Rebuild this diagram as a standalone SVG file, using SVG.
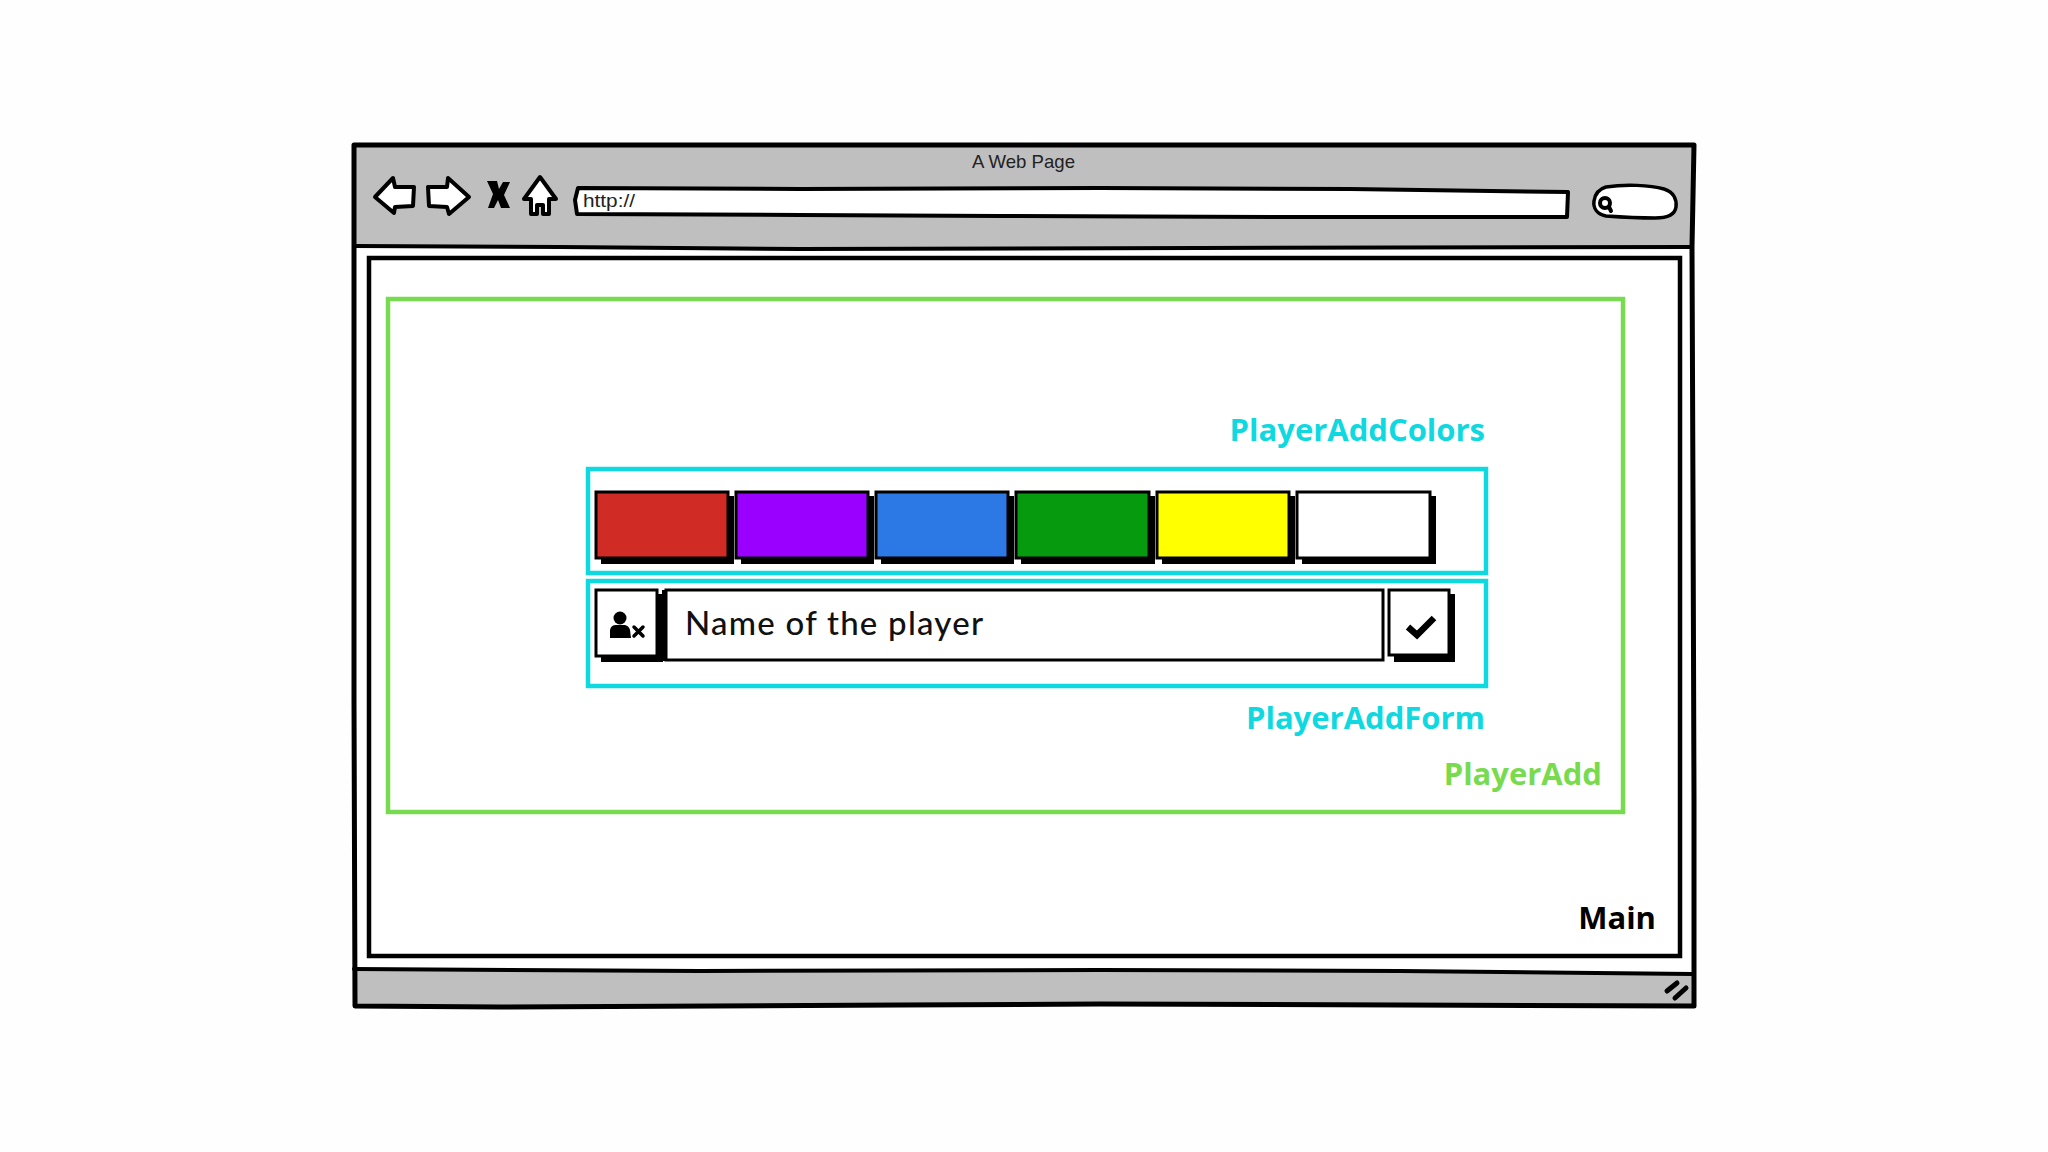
<svg xmlns="http://www.w3.org/2000/svg" width="2048" height="1152" viewBox="0 0 2048 1152">
<style>
.ink{stroke:#000;fill:none;stroke-linejoin:round;stroke-linecap:round}
.s5{stroke-width:5}.s4{stroke-width:4}
.grey{fill:#c0bfc0}
.wh{fill:#fff}
.grn{fill:none;stroke:#78db4f;stroke-width:4.5}
.cy{fill:none;stroke:#0fd9e0;stroke-width:4.5}
.lab{font-family:"Open Sans","Noto Sans",sans-serif;font-weight:700;font-size:31px}
.hand{font-family:"Liberation Sans",sans-serif;fill:#222}
.sw{stroke:#000;stroke-width:3}
.sh{fill:#000}
</style>
<rect width="2048" height="1152" fill="#fefefe"/>
<g id="browser">
<path class="wh" d="M354 145H1694V1006H354Z"/>
<path class="grey" d="M354 145H1694L1692 247L960 248L354 246Z"/>
<path class="grey" d="M354 969L700 971L1100 969L1400 971L1693 974V1005L900 1004L500 1007L354 1007Z"/>
<path class="ink s5" d="M354 145H1694L1692 247L1693 500L1694 800L1694 1006L1100 1004L900 1005L500 1007L355 1006L354 700L354 400Z"/>
<path class="ink s4" d="M354 246L560 247L800 249L1200 248L1692 247"/>
<path class="ink s4" d="M354 969L700 971L1100 970L1400 971L1693 974"/>
<text class="hand" x="972" y="168" font-size="18.5" textLength="103" lengthAdjust="spacingAndGlyphs">A Web Page</text>
<g id="btn-back"><path class="ink s4 wh" d="M375 197L393 178L395 187L414 187L413 206L395 207L394 213Z"/></g>
<g id="btn-forward"><path class="ink s4 wh" d="M428 187L447 187L448 178L469 197L449 214L447 207L429 206Z"/></g>
<g id="btn-stop"><path d="M487 181H497L499 189L503 182H510L504 195L510 208H501L498 200L494 208H488L493 194Z" fill="#000"/></g>
<g id="btn-home"><path class="ink s4 wh" d="M540 177L556 199L549 199L549 214L543 214L543 205L537 205L537 214L531 214L531 199L524 199Z"/></g>
<g id="address-bar">
<path class="ink s4 wh" d="M578 188L800 189L1100 188L1350 189L1568 192L1567 217L1300 217L1000 216L800 215L577 214L575 200Z"/>
<text class="hand" x="583" y="207" font-size="18" textLength="52" lengthAdjust="spacingAndGlyphs">http://</text>
</g>
<g id="search-box">
<path class="ink s3 wh" stroke-width="3.5" d="M1606 187C1625 184 1650 185 1664 189C1674 192 1677 200 1676 207C1675 214 1668 218 1655 218C1640 218 1620 217 1606 216C1597 214 1593 208 1594 201C1595 194 1599 189 1606 187Z"/>
<circle class="ink s4" cx="1605" cy="203" r="5"/>
<path class="ink s4" d="M1609 207L1611 211"/>
</g>
<g id="resize-grip">
<path class="ink s5" d="M1667 991L1677 983"/>
<path class="ink s5" d="M1675 998L1686 988"/>
</g>
</g>
<g id="main">
<rect x="369" y="258" width="1311" height="698" fill="#fff" stroke="#000" stroke-width="4.5"/>
<text class="lab" x="1656" y="929" text-anchor="end" fill="#000">Main</text>
</g>
<g id="player-add">
<rect class="grn" x="388" y="299" width="1235" height="513" fill="none"/>
<text class="lab" x="1602" y="785" text-anchor="end" fill="#78db4f">PlayerAdd</text>
</g>
<g id="player-add-colors">
<rect class="cy" x="588" y="469" width="898" height="104"/>
<text class="lab" x="1485" y="441" text-anchor="end" fill="#0fd9e0">PlayerAddColors</text>
<rect class="sh" x="601" y="496" width="133" height="68"/>
<rect class="sh" x="741" y="496" width="133" height="68"/>
<rect class="sh" x="881" y="496" width="133" height="68"/>
<rect class="sh" x="1021" y="496" width="134" height="68"/>
<rect class="sh" x="1162" y="496" width="133" height="68"/>
<rect class="sh" x="1302" y="496" width="134" height="68"/>
<rect class="sw" id="swatch-red" x="596" y="492" width="132" height="66" fill="#d12b25"/>
<rect class="sw" id="swatch-purple" x="736" y="492" width="132" height="66" fill="#9900ff"/>
<rect class="sw" id="swatch-blue" x="876" y="492" width="132" height="66" fill="#2c78e4"/>
<rect class="sw" id="swatch-green" x="1016" y="492" width="133" height="66" fill="#069a0e"/>
<rect class="sw" id="swatch-yellow" x="1157" y="492" width="132" height="66" fill="#ffff00"/>
<rect class="sw" id="swatch-white" x="1297" y="492" width="133" height="66" fill="#fff"/>
</g>
<g id="player-add-form">
<rect class="cy" x="588" y="581" width="898" height="105"/>
<text class="lab" x="1485" y="729" text-anchor="end" fill="#0fd9e0">PlayerAddForm</text>
<rect class="sh" x="601" y="594" width="62" height="68"/>
<rect class="sw" x="596" y="590" width="61" height="66" fill="#fff"/>
<circle cx="620" cy="618" r="6.5" fill="#000"/>
<path d="M610 638V630Q611 625 616 625H625Q629 626 630 630L631 638Z" fill="#000"/>
<path d="M634 627L643 636M643 627L634 636" stroke="#000" stroke-width="3.5" stroke-linecap="round" fill="none"/>
<rect class="sh" x="662" y="590" width="6" height="71"/>
<rect class="sw" x="666" y="590" width="717" height="70" fill="#fff"/>
<text x="685" y="635" font-family="Lato,'Noto Sans',sans-serif" font-size="33" font-weight="500" fill="#111" textLength="298" lengthAdjust="spacing">Name of the player</text>
<rect class="sh" x="1394" y="594" width="61" height="68"/>
<rect class="sw" x="1389" y="590" width="60" height="65" fill="#fff"/>
<path d="M1408 627L1417 635L1434 618" stroke="#000" stroke-width="6.5" fill="none"/>
</g>
</svg>
